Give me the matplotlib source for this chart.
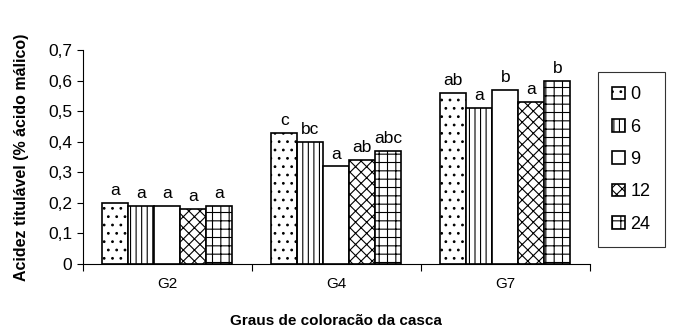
import numpy as np
import matplotlib
matplotlib.use("Agg")
import matplotlib.pyplot as plt
from matplotlib.ticker import FuncFormatter

plt.rcParams['font.family'] = ['Liberation Sans', 'DejaVu Sans']
plt.rcParams['hatch.linewidth'] = 0.8

groups = ["G2", "G4", "G7"]
series = ["0", "6", "9", "12", "24"]
values = {
    "0": [0.20, 0.43, 0.56],
    "6": [0.19, 0.40, 0.51],
    "9": [0.19, 0.32, 0.57],
    "12": [0.18, 0.34, 0.53],
    "24": [0.19, 0.37, 0.60],
}
letters = {
    "0": ["a", "c", "ab"],
    "6": ["a", "bc", "a"],
    "9": ["a", "a", "b"],
    "12": ["a", "ab", "a"],
    "24": ["a", "abc", "b"],
}
hatches = ["..", "|||", "", "xxx", "++"]

fig = plt.figure(figsize=(6.74, 3.31), dpi=100)
ax = fig.add_axes([0.123, 0.2024, 0.752, 0.6466])

x = np.arange(len(groups))
w = 0.154
for i, s in enumerate(series):
    pos = x + (i - 2) * w
    ax.bar(pos, values[s], width=w, color="white", edgecolor="black",
           linewidth=1.2, hatch=hatches[i], label=s)
    for p, v, t in zip(pos, values[s], letters[s]):
        ax.text(p, v + 0.015, t, ha="center", va="bottom", fontsize=12.5)

ax.set_xlim(-0.5, 2.5)
ax.set_ylim(0, 0.7)
ax.set_yticks(np.arange(0, 0.71, 0.1))
ax.yaxis.set_major_formatter(FuncFormatter(
    lambda v, _: "0" if abs(v) < 1e-9 else ("%.1f" % v).replace(".", ",")))
ax.set_xticks([-0.5, 0.5, 1.5, 2.5])
ax.set_xticklabels([])
ax.set_xticks(x, minor=True)
ax.set_xticklabels(groups, minor=True)
ax.tick_params(axis="x", which="minor", length=0, pad=9, labelsize=11)
ax.tick_params(axis="x", which="major", length=5, direction="out")
ax.tick_params(axis="y", length=4, labelsize=12.5)
for sp in ["top", "right"]:
    ax.spines[sp].set_visible(False)

ax.set_ylabel("Acidez titulável (% ácido málico)", fontweight="bold", fontsize=11.5,
              labelpad=14)
ax.set_xlabel("Graus de coloracão da casca", fontweight="bold", fontsize=11,
              labelpad=17)

leg = fig.legend(loc="upper left", bbox_to_anchor=(598 / 674, 1 - 72 / 331),
                 frameon=True, fancybox=False, edgecolor="black",
                 handlelength=0.7, handleheight=0.7, handletextpad=0.3,
                 labelspacing=0.85, fontsize=13, borderpad=0.8,
                 borderaxespad=0)
leg.get_frame().set_linewidth(0.8)

fig.savefig("out.png", dpi=100)
